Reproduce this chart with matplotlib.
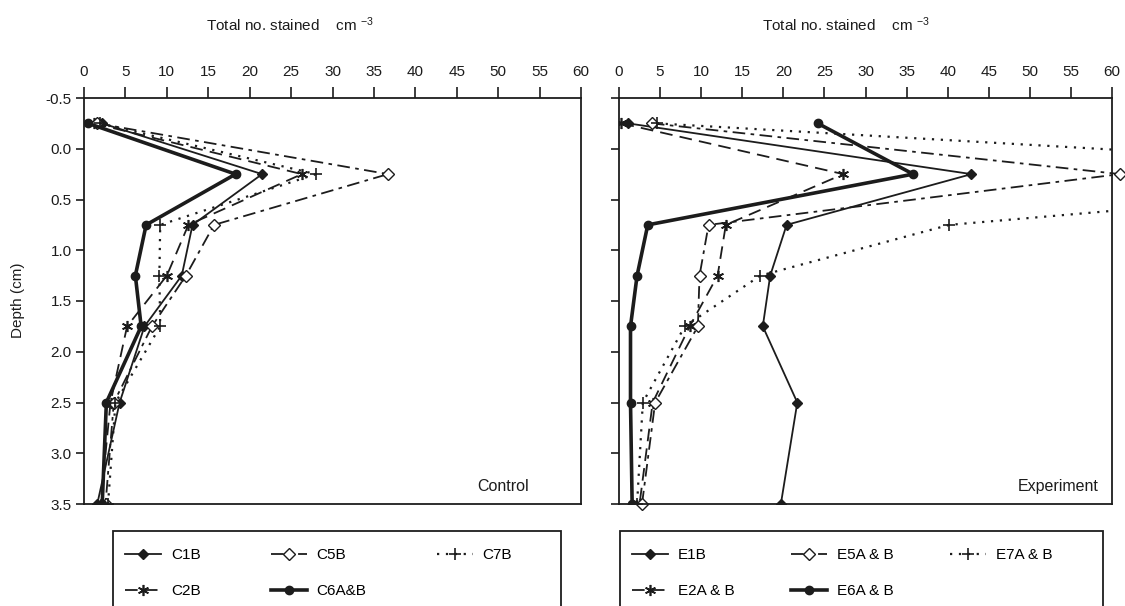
import numpy as np
import matplotlib
matplotlib.use('Agg')
import matplotlib.pyplot as plt
from matplotlib.patches import Rectangle

plt.rcParams['font.family'] = ['Liberation Sans', 'DejaVu Sans']
plt.rcParams['axes.unicode_minus'] = False
plt.rcParams['mathtext.default'] = 'regular'

# depth of each sample (cm), shared by every core
depth = [-0.25, 0.25, 0.75, 1.25, 1.75, 2.5, 3.5]

# Control cores: total no. stained per cm3
c1b = [2.2, 21.5, 13.1, 11.8, 7.3, 4.3, 1.6]
c2b = [1.2, 26.3, 12.6, 10.0, 5.2, 3.2, 2.0]
c5b = [1.6, 36.7, 15.7, 12.3, 8.2, 3.6, 2.6]
c6ab = [0.5, 18.3, 7.5, 6.2, 6.9, 2.7, 2.2]
c7b = [1.9, 28.0, 9.2, 9.1, 9.2, 3.8, 2.9]

# Experiment cores
e1b = [1.1, 42.9, 20.4, 18.4, 17.5, 21.7, 19.7]
e2ab = [0.3, 27.3, 13.0, 12.0, 8.6, 4.1, 2.5]
e5ab = [4.0, 61.0, 10.9, 9.8, 9.6, 4.4, 2.8]
e6ab = [24.2, 35.8, 3.5, 2.2, 1.4, 1.4, 1.6]
e7ab = [4.6, 112.0, 40.2, 17.2, 8.0, 2.9, 2.2]

control_labels = ['C1B', 'C2B', 'C5B', 'C6A&B', 'C7B']
experiment_labels = ['E1B', 'E2A & B', 'E5A & B', 'E6A & B', 'E7A & B']

x_ticks = list(range(0, 61, 5))
y_ticks = [-0.5, 0.0, 0.5, 1.0, 1.5, 2.0, 2.5, 3.0, 3.5]

ink = '#1c1c1c'
styles = [
    dict(ls='-', lw=1.3, marker='D', ms=5.5, mfc=ink, mec=ink),
    dict(ls=(0, (7, 4)), lw=1.3, marker=(6, 2, 0), ms=8, mew=1.2, mec=ink),
    dict(ls=(0, (7, 3, 2, 3)), lw=1.3, marker='D', ms=6, mfc='white', mec=ink, mew=1.0),
    dict(ls='-', lw=2.6, marker='o', ms=6, mfc=ink, mec=ink),
    dict(ls=(0, (1, 3)), lw=1.6, marker='+', ms=8, mew=1.2, mec=ink),
]

W, H = 1125, 606
fig = plt.figure(figsize=(W / 100, H / 100), dpi=100)
ax1 = fig.add_axes([84 / W, 1 - 504 / H, (581 - 84) / W, (504 - 98) / H])
ax2 = fig.add_axes([619 / W, 1 - 504 / H, (1112 - 619) / W, (504 - 98) / H])


def draw_panel(ax, series, labels, unclipped=()):
    handles = []
    for i, (vals, lab, st) in enumerate(zip(series, labels, styles)):
        h, = ax.plot(vals, depth, color=ink, label=lab, **st)
        if i in unclipped:
            h.set_clip_on(False)
        handles.append(h)
    ax.set_xlim(0, 60)
    ax.set_ylim(3.5, -0.5)
    ax.set_xticks(x_ticks)
    ax.set_yticks(y_ticks)
    ax.xaxis.tick_top()
    ax.tick_params(axis='x', direction='out', length=8, width=1.2, pad=6,
                   labelsize=11, colors=ink)
    ax.tick_params(axis='y', direction='out', length=6, width=1.2, pad=3,
                   labelsize=11, colors=ink)
    for sp in ax.spines.values():
        sp.set_linewidth(1.3)
        sp.set_color(ink)
    return handles


h1 = draw_panel(ax1, [c1b, c2b, c5b, c6ab, c7b], control_labels)
h2 = draw_panel(ax2, [e1b, e2ab, e5ab, e6ab, e7ab], experiment_labels, unclipped=(2,))
ax1.yaxis.set_major_formatter(plt.FormatStrFormatter('%.1f'))
ax2.set_yticklabels([])

ax1.text(0.895, 0.025, 'Control', transform=ax1.transAxes, ha='right',
         va='bottom', fontsize=11.5, color=ink)
ax2.text(0.972, 0.025, 'Experiment', transform=ax2.transAxes, ha='right',
         va='bottom', fontsize=11.5, color=ink)

fig.text(18 / W, 1 - 300 / H, 'Depth (cm)', rotation=90, ha='center',
         va='center', fontsize=11, color=ink)
fig.text(290 / W, 1 - 25 / H, 'Total no. stained    cm $^{-3}$', ha='center',
         va='center', fontsize=11, color=ink)
fig.text(846 / W, 1 - 25 / H, 'Total no. stained    cm $^{-3}$', ha='center',
         va='center', fontsize=11, color=ink)

# legend boxes: frame drawn separately, running off the bottom edge
for handles, labels, x0, x1, xl, colsp in [(h1, control_labels, 113, 561, 125, 4.6),
                                           (h2, experiment_labels, 620, 1103, 632, 3.7)]:
    fig.add_artist(Rectangle((x0 / W, -0.05), (x1 - x0) / W, (606 - 531) / H + 0.05,
                             transform=fig.transFigure, fill=False, lw=1.3,
                             edgecolor=ink))
    fig.legend(handles, labels, loc='upper left',
               bbox_to_anchor=(xl / W, 1 - 548 / H), ncol=3, frameon=False,
               fontsize=11, handlelength=2.35, labelspacing=1.45, borderpad=0,
               borderaxespad=0, handletextpad=0.65, columnspacing=colsp,
               numpoints=1)

fig.savefig('out.png', dpi=100)
